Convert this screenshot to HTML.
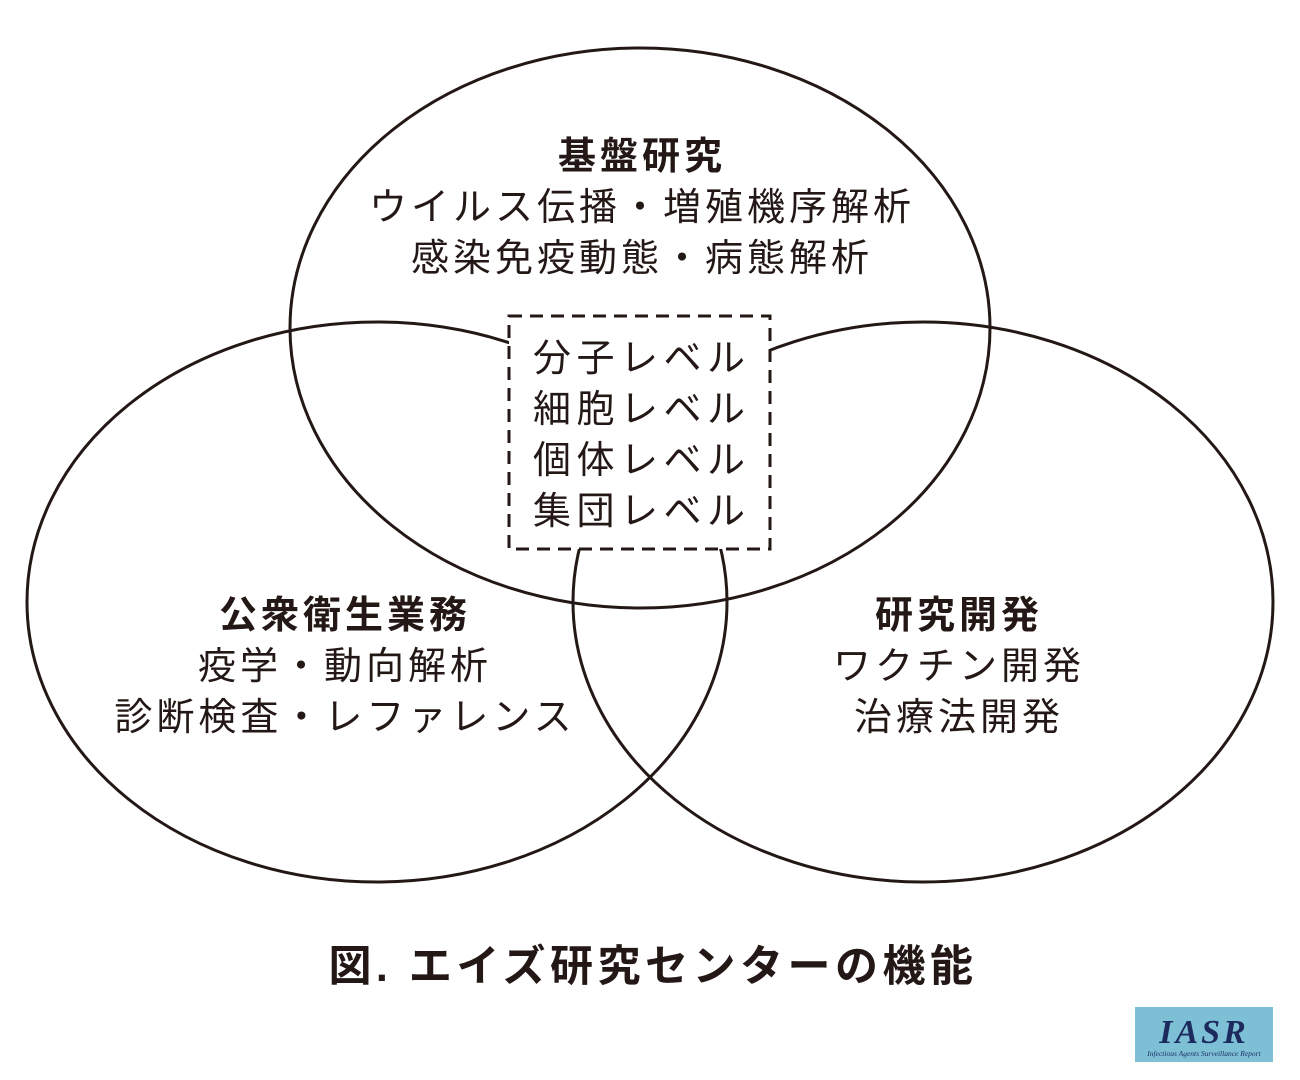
<!DOCTYPE html>
<html><head><meta charset="utf-8"><style>
html,body{margin:0;padding:0;background:#fff;}
svg{display:block;}
text{font-family:"Liberation Sans","Noto Sans CJK JP",sans-serif;fill:#231815;}
.t{font-size:38px;letter-spacing:4px;}
.b{font-size:38px;letter-spacing:5.5px;}
</style></head><body>
<svg width="1300" height="1080" viewBox="0 0 1300 1080">
<g fill="none" stroke="#231815" stroke-width="3">
<ellipse cx="640" cy="328" rx="350" ry="280"/>
<ellipse cx="377" cy="602" rx="350" ry="280"/>
<ellipse cx="923" cy="602" rx="350" ry="280"/>
</g>
<rect x="509" y="316" width="261" height="233" fill="#fff" stroke="#231815" stroke-width="3" stroke-dasharray="13 8"/>
<g class="t" text-anchor="middle">
<text x="642" y="169" font-weight="bold">基盤研究</text>
<text x="642" y="220">ウイルス伝播・増殖機序解析</text>
<text x="642" y="271">感染免疫動態・病態解析</text>
<text x="345" y="628" font-weight="bold">公衆衛生業務</text>
<text x="345" y="679">疫学・動向解析</text>
<text x="345" y="730">診断検査・レファレンス</text>
<text x="959" y="628" font-weight="bold">研究開発</text>
<text x="959" y="679">ワクチン開発</text>
<text x="959" y="730">治療法開発</text>
</g>
<g class="b">
<text x="533" y="371">分子レベル</text>
<text x="533" y="422">細胞レベル</text>
<text x="533" y="473">個体レベル</text>
<text x="533" y="524">集団レベル</text>
</g>
<text x="653" y="981" font-size="43" font-weight="bold" text-anchor="middle" style="letter-spacing:4.5px">図.  エイズ研究センターの機能</text>
<rect x="1135" y="1007" width="138" height="55" fill="#7dc0d6"/>
<text x="1204" y="1043" font-size="34" text-anchor="middle" style="fill:#1c2a5e;font-family:'Liberation Serif',serif;font-style:italic;font-weight:bold;letter-spacing:3px">IASR</text>
<text x="1204" y="1056" font-size="7.5" text-anchor="middle" style="fill:#1c2a5e;font-family:'Liberation Serif',serif;font-style:italic">Infectious Agents Surveillance Report</text>
</svg>
</body></html>
